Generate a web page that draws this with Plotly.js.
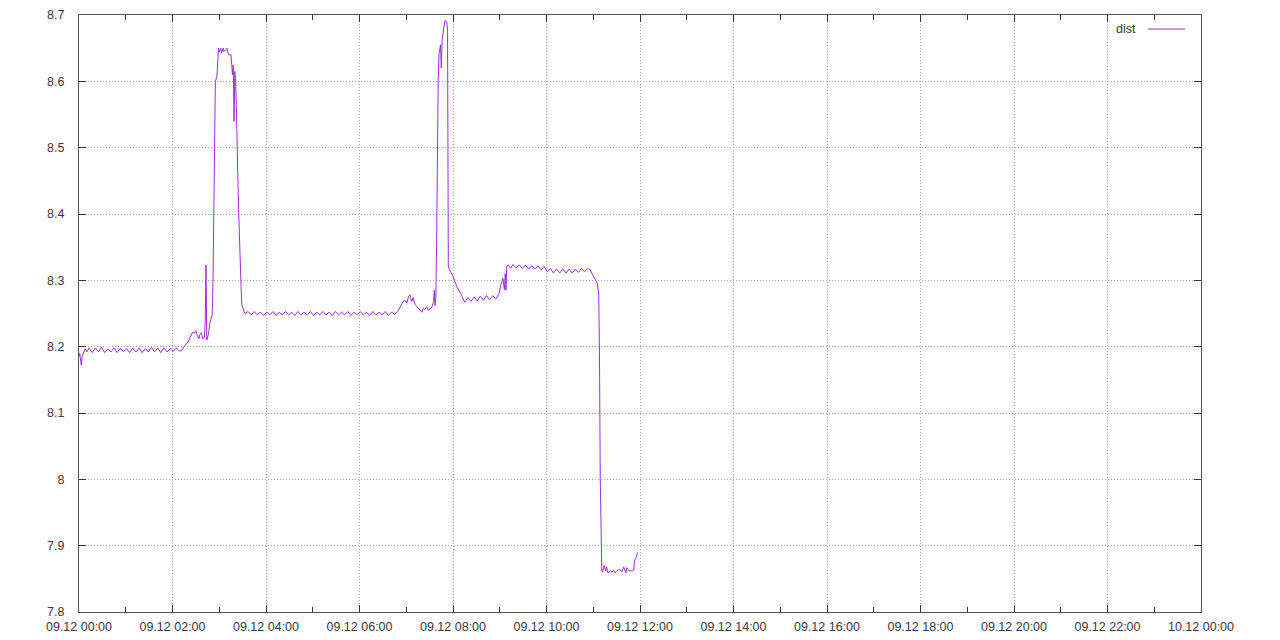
<!DOCTYPE html>
<html>
<head>
<meta charset="utf-8">
<script src="https://cdn.plot.ly/plotly-3.0.1.min.js"></script>
<style>html,body{margin:0;padding:0;background:#fff;}#chart{width:1280px;height:640px;}</style>
</head>
<body>
<div id="chart"></div>
<script>
// Day of the series and time-of-day samples (HH:MM)
const day = "2020-12-09";
const times = [
"00:00","00:01","00:02","00:03","00:04","00:06","00:08","00:10","00:13","00:17","00:21","00:25","00:29","00:33","00:37","00:41","00:45","00:49","00:53","00:57",
"01:01","01:05","01:09","01:13","01:17","01:21","01:25","01:29","01:33","01:37","01:41","01:45","01:49","01:53","01:57",
"02:01","02:05","02:09","02:12","02:16","02:20","02:23","02:26","02:28","02:30","02:32","02:34","02:35","02:37","02:39","02:41","02:42","02:43","02:44","02:46","02:48","02:51","02:52","02:53","02:54","02:55","02:57",
"02:58","02:59","03:00","03:02","03:03","03:05","03:06","03:08","03:10","03:12","03:15","03:16","03:17","03:18","03:19","03:20","03:21","03:22","03:23","03:24","03:25","03:26","03:28","03:29","03:31",
"03:33","03:37","03:41","03:45","03:49","03:53","03:57","04:01","04:05","04:09","04:13","04:17","04:21","04:25","04:29","04:33","04:37","04:41","04:45","04:49","04:53","04:57",
"05:01","05:05","05:09","05:13","05:17","05:21","05:25","05:29","05:33","05:37","05:41","05:45","05:49","05:53","05:57",
"06:01","06:05","06:09","06:13","06:17","06:21","06:25","06:29","06:33","06:37","06:41","06:45","06:49",
"06:53","06:56","06:58","07:01","07:03","07:05","07:07","07:09","07:11","07:14","07:17","07:20","07:22","07:24","07:26","07:28","07:31","07:33","07:35","07:36","07:37","07:38","07:39","07:40","07:41","07:42","07:44","07:45","07:46","07:48","07:50","07:52","07:53","07:54",
"08:00","08:05","08:10","08:15","08:19","08:23","08:27","08:31","08:35","08:39","08:43","08:47","08:51","08:55","08:59",
"09:02","09:04","09:06","09:07","09:08","09:09","09:11","09:14","09:17","09:21","09:25","09:29","09:33","09:37","09:41","09:45","09:49","09:53","09:57",
"10:01","10:05","10:09","10:13","10:17","10:21","10:25","10:29","10:33","10:37","10:41","10:45","10:49","10:53","10:56","10:58",
"11:01","11:05","11:07","11:08","11:09","11:10","11:11","11:12","11:14","11:16","11:17","11:19","11:22","11:24","11:26","11:28","11:31","11:34","11:37","11:39","11:41","11:42","11:43","11:46","11:50","11:52","11:53","11:55","11:57"
];
const dist = [
8.185,8.19,8.18,8.172,8.185,8.193,8.197,8.192,8.198,8.191,8.198,8.192,8.199,8.191,8.197,8.192,8.198,8.191,8.198,8.192,
8.197,8.191,8.198,8.192,8.198,8.191,8.197,8.192,8.199,8.192,8.198,8.191,8.198,8.192,8.197,
8.193,8.198,8.193,8.195,8.202,8.207,8.215,8.222,8.22,8.224,8.216,8.212,8.218,8.221,8.212,8.214,8.24,8.323,8.21,8.218,8.236,8.248,8.3,8.38,8.5,8.6,8.607,
8.647,8.65,8.644,8.65,8.643,8.65,8.645,8.648,8.65,8.64,8.64,8.625,8.61,8.625,8.54,8.615,8.6,8.56,8.47,8.45,8.40,8.35,8.29,8.263,8.255,
8.25,8.253,8.248,8.253,8.248,8.252,8.247,8.252,8.248,8.253,8.247,8.252,8.248,8.253,8.248,8.252,8.247,8.253,8.248,8.252,8.248,8.253,
8.247,8.252,8.248,8.253,8.248,8.252,8.247,8.253,8.248,8.252,8.248,8.253,8.247,8.252,8.248,
8.253,8.248,8.252,8.247,8.253,8.248,8.252,8.248,8.253,8.247,8.252,8.249,8.253,
8.262,8.268,8.27,8.266,8.276,8.278,8.268,8.274,8.264,8.26,8.256,8.252,8.258,8.256,8.26,8.255,8.257,8.26,8.268,8.285,8.262,8.275,8.36,8.5,8.6,8.64,8.655,8.62,8.66,8.68,8.692,8.69,8.677,8.32,
8.306,8.29,8.28,8.267,8.274,8.268,8.275,8.269,8.276,8.27,8.277,8.271,8.277,8.272,8.28,
8.295,8.303,8.286,8.31,8.285,8.322,8.323,8.318,8.324,8.319,8.323,8.318,8.323,8.317,8.322,8.317,8.322,8.316,8.321,
8.313,8.318,8.311,8.317,8.311,8.317,8.311,8.317,8.311,8.317,8.312,8.318,8.313,8.318,8.316,8.311,
8.305,8.296,8.282,8.19,8.0,7.87,7.862,7.86,7.87,7.862,7.868,7.859,7.862,7.86,7.863,7.859,7.863,7.864,7.861,7.868,7.862,7.859,7.867,7.862,7.862,7.863,7.878,7.882,7.89
];
const seriesName = "dist";
const xRange = ["2020-12-09 00:00", "2020-12-10 00:00"];
const yRange = [7.8, 8.7];

const lineColor = "#9a2fd6";
const x = times.map(t => day + " " + t);

const tickFont = {family: "Liberation Sans, Arial, sans-serif", size: 12.5, color: "#3a3a3a"};

const data = [{
  x: x, y: dist, type: "scatter", mode: "lines", name: seriesName,
  line: {color: lineColor, width: 1}, showlegend: false
}];

const layout = {
  width: 1280, height: 640,
  margin: {l: 79, r: 79, t: 15, b: 28, pad: 0},
  paper_bgcolor: "#ffffff", plot_bgcolor: "#ffffff",
  showlegend: false,
  xaxis: {
    type: "date", range: xRange, dtick: 7200000, tick0: "2020-12-09 00:00",
    tickformat: "%d.%m %H:%M", tickfont: tickFont,
    showgrid: true, gridcolor: "#a8a8a8", griddash: "1px,2px", gridwidth: 1,
    showline: true, linecolor: "#555", linewidth: 1, mirror: "allticks",
    ticks: "inside", ticklen: 7, tickcolor: "#333", tickwidth: 1,
    minor: {dtick: 3600000, ticks: "inside", ticklen: 5, tickcolor: "#333", showgrid: false},
    zeroline: false, ticklabelstandoff: 3
  },
  yaxis: {
    range: yRange, dtick: 0.1, tick0: 7.8, tickfont: tickFont,
    showgrid: true, gridcolor: "#a8a8a8", griddash: "1px,2px", gridwidth: 1,
    showline: true, linecolor: "#555", linewidth: 1, mirror: "allticks",
    ticks: "inside", ticklen: 7, tickcolor: "#333", tickwidth: 1,
    zeroline: false, ticklabelstandoff: 11
  },
  annotations: [{
    xref: "paper", yref: "paper", x: 0.9439, y: 0.9765, xanchor: "right", yanchor: "middle",
    text: seriesName, showarrow: false, font: tickFont
  }],
  shapes: [{
    type: "line", xref: "paper", yref: "paper", x0: 0.9528, x1: 0.9857, y0: 0.9765, y1: 0.9765,
    line: {color: lineColor, width: 1}
  }]
};

Plotly.newPlot("chart", data, layout, {displayModeBar: false, staticPlot: true});
</script>
</body>
</html>
